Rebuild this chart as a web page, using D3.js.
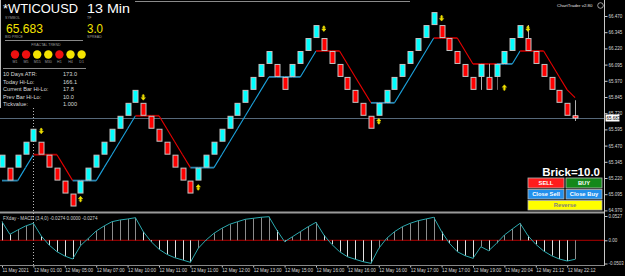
<!DOCTYPE html>
<html>
<head>
<meta charset="utf-8">
<title>WTICOUSD 13 Min</title>
<script src="https://cdn.jsdelivr.net/npm/d3@7"></script>
<style>
  html, body { margin: 0; padding: 0; background: #000; }
  svg { display: block; font-family: "Liberation Sans", Arial, sans-serif; }
</style>
</head>
<body>
<div id="chart"></div>
<script>
// Renko bricks: low price of each brick, and its direction (u = up, d = down)
var brickLow = [65.3, 65.2, 65.3, 65.4, 65.5, 65.4, 65.3, 65.2, 65.1, 65.0,
  65.1, 65.2, 65.3, 65.4, 65.5, 65.6, 65.7, 65.8, 65.7, 65.6,
  65.5, 65.4, 65.3, 65.2, 65.1, 65.2, 65.3, 65.4, 65.5, 65.6,
  65.7, 65.8, 65.9, 66.0, 66.1, 66.0, 65.9, 66.0, 66.1, 66.2,
  66.3, 66.2, 66.1, 66.0, 65.9, 65.8, 65.7, 65.6, 65.7, 65.8,
  65.9, 66.0, 66.1, 66.2, 66.3, 66.4, 66.3, 66.2, 66.1, 66.0,
  65.9, 66.0, 65.9, 66.0, 66.1, 66.2, 66.3, 66.2, 66.1, 66.0,
  65.9, 65.8, 65.7];
var brickDir = ['u','d','u','u','u','d','d','d','d','d',
  'u','u','u','u','u','u','u','u','d','d',
  'd','d','d','d','d','u','u','u','u','u',
  'u','u','u','u','u','d','d','u','u','u',
  'u','d','d','d','d','d','d','d','u','u',
  'u','u','u','u','u','u','d','d','d','d',
  'd','u','d','u','u','u','u','d','d','d',
  'd','d','d'];

// Current (unfinished) brick
var lastPrice = 65.683;
var lastBrickTop = 65.70;

// Wicks
var wickIdx = [61, 62, 63, 67, 73];
var wickHigh = [66.1, 66.1, 66.1, 66.4, 65.82];
var wickLow = [65.9, 65.9, 65.9, 66.2, 65.66];

// Trailing line, one value per brick, and its trend per segment
var trailVal = [65.2, 65.2, 65.2, 65.3, 65.4, 65.4, 65.4, 65.4, 65.3, 65.2,
  65.2, 65.2, 65.2, 65.3, 65.4, 65.5, 65.6, 65.7, 65.7, 65.7,
  65.7, 65.6, 65.5, 65.4, 65.3, 65.3, 65.3, 65.3, 65.4, 65.5,
  65.6, 65.7, 65.8, 65.9, 66.0, 66.0, 66.0, 66.0, 66.0, 66.1,
  66.2, 66.2, 66.2, 66.2, 66.1, 66.0, 65.9, 65.8, 65.8, 65.8,
  65.8, 65.9, 66.0, 66.1, 66.2, 66.3, 66.3, 66.3, 66.3, 66.2,
  66.1, 66.1, 66.1, 66.1, 66.1, 66.1, 66.2, 66.2, 66.2, 66.2,
  66.1, 66.0, 65.9, 65.84];
var trailDir = ['u','u','u','u','d','d','d','d','d','u',
  'u','u','u','u','u','u','u','d','d','d',
  'd','d','d','d','u','u','u','u','u','u',
  'u','u','u','u','u','u','u','u','u','u',
  'd','d','d','d','d','d','d','u','u','u',
  'u','u','u','u','u','d','d','d','d','d',
  'd','d','d','u','u','u','d','d','d','d',
  'd','d','d'];

// Fractal arrows
var downArrowIdx = [5, 18, 41, 56, 67];
var downArrowPrice = [65.58, 65.84, 66.37, 66.45, 66.37];
var upArrowIdx = [10, 25, 48, 64];
var upArrowPrice = [65.06, 65.15, 65.66, 65.92];

// MACD values per brick
var macdVals = [0.0403, 0.0130, 0.0223, 0.0310, 0.0369, 0.0093, -0.0102, -0.0247, -0.0341, -0.0406,
  -0.0117, 0.0043, 0.0202, 0.0310, 0.0403, 0.0440, 0.0462, 0.0490, 0.0187, -0.0030,
  -0.0195, -0.0304, -0.0377, -0.0427, -0.0477, -0.0174, 0.0007, 0.0152, 0.0260, 0.0347,
  0.0403, 0.0456, 0.0477, 0.0499, 0.0512, 0.0223, -0.0030, 0.0078, 0.0187, 0.0295,
  0.0390, 0.0115, -0.0087, -0.0247, -0.0356, -0.0412, -0.0464, -0.0499, -0.0174, 0.0043,
  0.0187, 0.0295, 0.0369, 0.0425, 0.0462, 0.0499, 0.0187, -0.0065, -0.0247, -0.0334,
  -0.0390, -0.0139, -0.0226, -0.0065, 0.0115, 0.0245, 0.0369, 0.0100, -0.0087, -0.0232,
  -0.0334, -0.0406, -0.0449, -0.0412];

// Axis ticks and labels
var priceTicks = [66.470, 66.345, 66.220, 66.095, 65.970, 65.845, 65.720, 65.595,
  65.470, 65.345, 65.220, 65.095, 64.970];
var macdTicks = [0.0527, 0, -0.0503];
var macdTickLabels = ['0.0527', '0.00', '-0.0503'];
var timeIdx = [0, 4, 8, 12, 16, 20, 24, 28, 32, 36, 40, 44, 48, 52, 56, 60, 64, 68, 72];
var timeLabels = ['11 May 2021', '12 May 01:00', '12 May 05:00', '12 May 07:00', '12 May 10:00',
  '12 May 11:00', '12 May 11:00', '12 May 12:00', '12 May 13:00', '12 May 15:00',
  '12 May 16:00', '12 May 16:00', '12 May 16:00', '12 May 17:00', '12 May 17:00',
  '12 May 19:00', '12 May 20:04', '12 May 21:12', '12 May 22:12'];

// Info panel
var fractalTf = ['M1', 'M5', 'M15', 'M30', 'H1', 'H4', 'D1'];
var fractalSig = ['dn', 'dn', 'up', 'up', 'dn', 'up', 'up'];
var infoNames = ['10 Days ATR:', 'Today Hi-Lo:', 'Current Bar Hi-Lo:', 'Prev Bar Hi-Lo:', 'Tickvalue:'];
var infoValues = ['173.0', '166.1', '17.8', '10.0', '1.000'];

(function() {

  var W = 625, H = 276, axisX = 604.5;
  var BLUE = '#1ca3de', RED = '#e80000';

  var svg = d3.select('#chart').append('svg')
    .attr('width', W)
    .attr('height', H);

  svg.append('rect').attr('width', W).attr('height', H).attr('fill', '#000');

  var xs = d3.scaleLinear().domain([0, 73]).range([2, 2 + 7.85 * 73]);
  var ys = d3.scaleLinear().domain([64.97, 66.47]).range([210.4, 16]);
  var ym = d3.scaleLinear().domain([-0.0503, 0.0527]).range([263.5, 216]);

  // frame lines
  svg.append('line').attr('x1', 135).attr('x2', 410).attr('y1', 1.5).attr('y2', 1.5)
    .attr('stroke', '#8a8a8a');
  svg.append('rect').attr('x', 0).attr('y', 211.5).attr('width', axisX).attr('height', 2)
    .attr('fill', '#9a9a9a');

  // current price line
  svg.append('line')
    .attr('x1', 0).attr('x2', axisX)
    .attr('y1', Math.round(ys(lastPrice)) + 0.5).attr('y2', Math.round(ys(lastPrice)) + 0.5)
    .attr('stroke', '#56687a');

  // dotted separator
  svg.append('line')
    .attr('x1', Math.round(xs(4)) + 0.5).attr('x2', Math.round(xs(4)) + 0.5)
    .attr('y1', 108).attr('y2', 266)
    .attr('stroke', '#bbbbbb')
    .attr('stroke-dasharray', '1,2');

  // trailing line
  var segs = d3.range(trailVal.length - 1).map(function(i) {
    return { i: i, a: trailVal[i], b: trailVal[i + 1], dir: trailDir[i] };
  });
  svg.append('g').selectAll('line').data(segs).join('line')
    .attr('x1', function(d) { return xs(d.i); })
    .attr('x2', function(d) { return xs(d.i + 1); })
    .attr('y1', function(d) { return ys(d.a); })
    .attr('y2', function(d) { return ys(d.b); })
    .attr('stroke', function(d) {
      var flat = Math.abs(d.a - d.b) < 0.001;
      if (d.dir == 'u') return flat ? '#2a86b0' : BLUE;
      return flat ? '#b80000' : RED;
    })
    .attr('stroke-width', function(d) { return Math.abs(d.a - d.b) < 0.001 ? 1.8 : 1.1; });

  // wicks
  svg.append('g').selectAll('line').data(wickIdx).join('line')
    .attr('x1', function(d) { return Math.round(xs(d)) + 0.5; })
    .attr('x2', function(d) { return Math.round(xs(d)) + 0.5; })
    .attr('y1', function(d, i) { return ys(wickHigh[i]); })
    .attr('y2', function(d, i) { return ys(wickLow[i]); })
    .attr('stroke', function(d) { return d == 63 ? '#666' : '#b0b0b0'; });

  // bricks
  svg.append('g').selectAll('rect').data(brickLow).join('rect')
    .attr('x', function(d, i) { return Math.round(xs(i)) - 2; })
    .attr('width', 5)
    .attr('y', function(d) { return ys(d + 0.1) + 0.5; })
    .attr('height', function(d) { return ys(d) - ys(d + 0.1) - 1; })
    .attr('fill', function(d, i) { return brickDir[i] == 'u' ? '#00ffff' : '#ff0000'; })
    .attr('stroke', '#c4c4c4')
    .attr('stroke-width', 1);

  // unfinished brick
  svg.append('rect')
    .attr('x', Math.round(xs(73)) - 2).attr('width', 5)
    .attr('y', ys(lastBrickTop)).attr('height', ys(lastPrice) - ys(lastBrickTop))
    .attr('fill', '#ff0000').attr('stroke', '#ffffff').attr('stroke-width', 0.8);

  // fractal arrows
  var arrow = function(x, y, down) {
    var s = down ? 1 : -1;
    return 'M' + (x - 0.6) + ',' + (y - 3 * s) + 'H' + (x + 0.6) + 'V' + y +
      'H' + (x + 2.1) + 'L' + x + ',' + (y + 2.5 * s) + 'L' + (x - 2.1) + ',' + y + 'H' + (x - 0.6) + 'Z' +
      'M' + (x - 1.8) + ',' + (y - 1.6 * s) + 'H' + (x + 1.8);
  };
  svg.append('g').selectAll('path.dn').data(downArrowIdx).join('path')
    .attr('d', function(d, i) { return arrow(xs(d), ys(downArrowPrice[i]), true); })
    .attr('fill', '#f2e200').attr('stroke', '#f2e200').attr('stroke-width', 0.6);
  svg.append('g').selectAll('path.up').data(upArrowIdx).join('path')
    .attr('d', function(d, i) { return arrow(xs(d), ys(upArrowPrice[i]), false); })
    .attr('fill', '#f2e200').attr('stroke', '#f2e200').attr('stroke-width', 0.6);

  // info panel
  var panel = svg.append('g');
  panel.append('rect').attr('x', 0).attr('y', 0).attr('width', 88).attr('height', 107).attr('fill', '#000');
  panel.append('line').attr('x1', 0.5).attr('x2', 0.5).attr('y1', 0).attr('y2', 108).attr('stroke', '#bdbdbd');

  var txt = function(x, y, s, size, color, opts) {
    var t = panel.append('text').attr('x', x).attr('y', y).text(s)
      .attr('font-size', size).attr('fill', color);
    if (opts && opts.len) t.attr('textLength', opts.len).attr('lengthAdjust', 'spacingAndGlyphs');
    if (opts && opts.anchor) t.attr('text-anchor', opts.anchor);
    return t;
  };

  txt(3, 13, '*WTICOUSD', 12.5, '#ffffff', { len: 75 });
  txt(87, 13, '13 Min', 12.5, '#ffffff', { len: 43 });
  txt(5, 18.5, 'SYMBOL', 3.6, '#9a9a9a');
  txt(87, 18.5, 'TF', 3.6, '#9a9a9a');
  txt(6, 33, '65.683', 13.5, '#f5e400', { len: 37 });
  txt(87, 33, '3.0', 13.5, '#f5e400', { len: 16 });
  txt(5, 38, 'BID PRICE', 3.6, '#9a9a9a');
  txt(87, 38, 'SPREAD', 3.6, '#9a9a9a');
  panel.append('line').attr('x1', 5).attr('x2', 83).attr('y1', 40.5).attr('y2', 40.5).attr('stroke', '#888');
  txt(46, 45.5, 'FRACTAL TREND', 3.6, '#9a9a9a', { anchor: 'middle' });

  panel.selectAll('circle').data(fractalTf).join('circle')
    .attr('cx', function(d, i) { return 15 + i * 11.1; })
    .attr('cy', 54.5)
    .attr('r', 4.2)
    .attr('fill', function(d, i) { return fractalSig[i] == 'dn' ? '#ee1010' : '#f5e400'; });
  panel.selectAll('text.tf').data(fractalTf).join('text')
    .attr('class', 'tf')
    .attr('x', function(d, i) { return 15 + i * 11.1; })
    .attr('y', 62.5)
    .attr('text-anchor', 'middle')
    .attr('font-size', 3.6)
    .attr('fill', '#9a9a9a')
    .text(function(d) { return d; });
  panel.append('line').attr('x1', 3).attr('x2', 86).attr('y1', 68.5).attr('y2', 68.5).attr('stroke', '#888');

  infoNames.forEach(function(n, i) {
    txt(3, 76 + i * 7.6, n, 5.6, '#d8d8d8');
    txt(63, 76 + i * 7.6, infoValues[i], 5.6, '#d8d8d8');
  });

  // chart trader label
  svg.append('text').attr('x', 557).attr('y', 7).attr('font-size', 4.4).attr('fill', '#e0e0e0')
    .text('ChartTrader v2.80');
  svg.append('circle').attr('cx', 600.5).attr('cy', 5.5).attr('r', 2.8)
    .attr('fill', 'none').attr('stroke', '#e0e0e0').attr('stroke-width', 0.7);

  // trade buttons
  svg.append('text').attr('x', 600).attr('y', 175.5).attr('text-anchor', 'end')
    .attr('font-size', 11.5).attr('font-weight', 'bold').attr('fill', '#fff').text('Brick=10.0');

  var buttons = [
    { x: 528, y: 178, w: 36, h: 10, fill: '#ff1c1c', color: '#fff', label: 'SELL' },
    { x: 566, y: 178, w: 36, h: 10, fill: '#14881a', color: '#fff', label: 'BUY' },
    { x: 528, y: 189.5, w: 36, h: 9.5, fill: '#2290ec', color: '#fff', label: 'Close Sell' },
    { x: 566, y: 189.5, w: 36, h: 9.5, fill: '#2290ec', color: '#fff', label: 'Close Buy' },
    { x: 528, y: 200.5, w: 74, h: 9.5, fill: '#ffff00', color: '#808080', label: 'Reverse' }
  ];
  var btn = svg.append('g').selectAll('g').data(buttons).join('g');
  btn.append('rect')
    .attr('x', function(d) { return d.x; }).attr('y', function(d) { return d.y; })
    .attr('width', function(d) { return d.w; }).attr('height', function(d) { return d.h; })
    .attr('fill', function(d) { return d.fill; })
    .attr('stroke', '#b8b8b8').attr('stroke-width', 0.8);
  btn.append('text')
    .attr('x', function(d) { return d.x + d.w / 2; })
    .attr('y', function(d) { return d.y + d.h / 2 + 2; })
    .attr('text-anchor', 'middle')
    .attr('font-size', 5.8).attr('font-weight', 'bold')
    .attr('fill', function(d) { return d.color; })
    .text(function(d) { return d.label; });

  // MACD pane
  svg.append('line').attr('x1', 0).attr('x2', axisX).attr('y1', ym(0)).attr('y2', ym(0))
    .attr('stroke', '#b00000');
  svg.append('g').selectAll('line').data(macdVals).join('line')
    .attr('x1', function(d, i) { return Math.round(xs(i)) + 0.5; })
    .attr('x2', function(d, i) { return Math.round(xs(i)) + 0.5; })
    .attr('y1', ym(0))
    .attr('y2', function(d) { return ym(d); })
    .attr('stroke', function(d, i) { return i > 0 && d > macdVals[i - 1] ? '#8c8c8c' : '#e2e2e2'; })
    .attr('stroke-width', 1);
  svg.append('path')
    .attr('d', d3.line().x(function(d, i) { return xs(i); }).y(function(d) { return ym(d); })(macdVals))
    .attr('fill', 'none').attr('stroke', '#2aa9ae').attr('stroke-width', 1);
  svg.append('text').attr('x', 3).attr('y', 219.5).attr('font-size', 4.6).attr('fill', '#d0d0d0')
    .text('FXday - MACD (3,4,0) -0.0274 0.0000 -0.0274');

  // axes
  var priceAxis = d3.axisRight(ys).tickValues(priceTicks).tickSize(3).tickPadding(1)
    .tickFormat(d3.format('.3f'));
  var gP = svg.append('g').attr('transform', 'translate(' + axisX + ',0)').call(priceAxis);

  var macdAxis = d3.axisRight(ym).tickValues(macdTicks).tickSize(3).tickPadding(1)
    .tickFormat(function(d, i) { return macdTickLabels[i]; });
  var gM = svg.append('g').attr('transform', 'translate(' + axisX + ',0)').call(macdAxis);

  var timeAxis = d3.axisBottom(xs).tickValues(timeIdx).tickSize(2).tickPadding(1)
    .tickFormat(function(d, i) { return timeLabels[i]; });
  var gT = svg.append('g').attr('transform', 'translate(0,265.5)').call(timeAxis);

  [gP, gM, gT].forEach(function(g) {
    g.select('.domain').remove();
    g.selectAll('line').attr('stroke', '#c8c8c8');
    g.selectAll('text').attr('fill', '#d8d8d8').attr('font-size', 4.5)
      .attr('font-family', '"Liberation Sans", Arial, sans-serif');
  });
  gT.selectAll('text').attr('text-anchor', 'start').attr('font-size', 4.6);

  svg.append('line').attr('x1', axisX).attr('x2', axisX).attr('y1', 0).attr('y2', 266)
    .attr('stroke', '#c8c8c8');
  svg.append('line').attr('x1', 0).attr('x2', axisX).attr('y1', 265.5).attr('y2', 265.5)
    .attr('stroke', '#888');

  // current price tag
  var py = ys(lastPrice);
  svg.append('rect').attr('x', axisX + 1).attr('y', py - 3.5).attr('width', 14).attr('height', 7)
    .attr('fill', '#ffffff');
  svg.append('text').attr('x', axisX + 2).attr('y', py + 1.7).attr('font-size', 4.5)
    .attr('fill', '#000').text('65.683');

})();
</script>
</body>
</html>
